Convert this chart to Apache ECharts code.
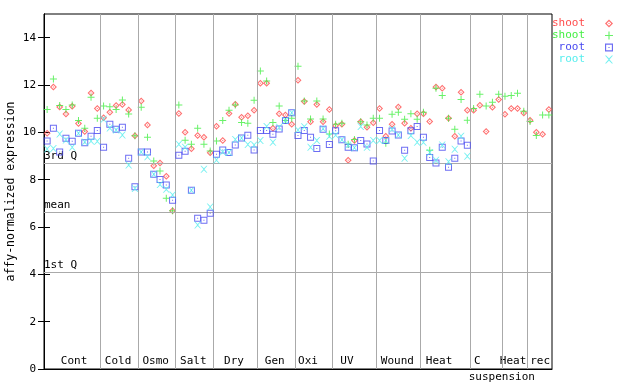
<!DOCTYPE html>
<html><head><meta charset="utf-8">
<script src="https://cdn.jsdelivr.net/npm/echarts@6/dist/echarts.min.js"></script>
<style>html,body{margin:0;padding:0;background:#fff}#c{width:640px;height:384px}</style>
</head><body><div id="c"></div>
<script>
const groups = ['Cont','Cold','Osmo','Salt','Dry','Gen','Oxi','UV','Wound','Heat','C','Heat','rec'];
const groupSizes = [9,6,6,6,7,6,6,7,7,8,5,4,4];
const groupLabelPos = [4.8,11.8,17.8,23.8,30.3,36.8,42.1,48.3,56.35,63.0,69.1,74.8,79.1];
const subLabels = ['suspension'];
const subLabelPos = [73.0];
const yTicks = [0,2,4,6,8,10,12,14];
const refNames = ['3rd Q','mean','1st Q'];
const refValues = [8.70, 6.63, 4.10];

const shootRed = [9.96,11.92,11.07,10.77,11.10,10.37,10.04,11.66,11.01,
 10.62,10.85,11.13,11.18,10.94,9.86,
 11.32,10.31,8.59,8.70,8.14,6.69,
 10.80,10.00,9.31,9.87,9.79,9.14,
 10.26,9.66,10.80,11.19,10.64,10.70,10.93,
 12.07,12.07,10.17,10.79,10.73,10.34,
 12.20,11.30,10.45,11.18,10.45,10.97,
 10.28,10.34,8.82,9.66,10.45,10.21,10.41,
 11.01,9.83,10.34,11.07,10.38,10.17,10.79,
 10.79,10.46,11.92,11.86,10.59,9.83,11.69,10.93,
 10.93,11.14,10.04,11.06,11.39,
 10.76,11.01,11.01,10.82,
 10.51,10.00,9.92,10.97];
const shootGreen = [10.97,12.25,11.13,10.97,11.15,10.50,10.17,11.48,10.59,
 11.11,11.08,10.97,11.37,10.77,9.86,
 11.06,9.79,8.79,8.37,7.21,6.69,
 11.15,9.67,9.50,10.17,9.50,9.21,
 9.63,10.50,10.93,11.15,10.42,10.38,11.36,
 12.59,12.17,10.42,11.11,10.50,10.59,
 12.79,11.32,10.56,11.32,10.56,9.93,
 10.34,10.38,9.50,9.70,10.45,10.31,10.59,
 10.59,9.54,10.76,10.85,10.55,10.79,10.55,
 10.85,9.24,11.86,11.56,10.59,10.13,11.39,10.51,
 11.01,11.61,11.11,11.27,11.61,
 11.52,11.56,11.65,10.89,
 10.46,9.87,10.73,10.73];
const rootBlue = [9.63,10.17,9.17,9.75,9.62,9.96,9.56,9.83,10.08,
 9.37,10.34,10.13,10.21,8.90,7.70,
 9.17,9.17,8.23,8.01,7.77,7.13,
 9.03,9.20,7.55,6.37,6.28,6.58,
 9.07,9.25,9.15,9.46,9.76,9.88,9.25,
 10.08,10.08,9.92,10.14,10.50,10.83,
 9.87,10.08,9.79,9.32,10.13,9.49,
 10.07,9.69,9.37,9.35,9.66,9.51,8.79,
 10.08,9.66,10.06,9.89,9.24,10.07,10.25,
 9.79,8.94,8.70,9.37,8.52,8.90,9.63,9.45];
const rootCyan = [9.30,9.32,9.93,9.68,9.37,9.96,9.59,9.63,9.62,
 10.55,10.18,10.10,9.89,8.62,7.63,
 9.17,8.97,8.23,7.80,7.59,7.35,
 9.50,9.37,7.55,6.08,8.44,6.84,
 8.83,9.17,9.15,9.70,9.76,9.49,9.46,
 9.66,10.25,9.58,10.22,10.50,10.83,
 10.10,10.24,9.37,9.66,10.15,9.83,
 9.89,9.69,9.46,9.35,10.25,9.37,9.66,
 9.66,9.66,10.13,9.89,8.90,9.87,9.58,
 9.58,9.15,8.82,9.46,8.76,9.28,9.83,8.99];

const FONT = 'DejaVu Sans Mono';
const totalSlots = groupSizes.reduce((a,b)=>a+b,0);
const bounds = [];
{ let acc = 0; for (let i = 0; i < groupSizes.length - 1; i++) { acc += groupSizes[i]; bounds.push(acc); } }
const toPts = arr => arr.map((v,i) => [i + 0.5, v]);

const SYM_DIAMOND = 'path://M3.5,0L7,3.5L3.5,7L0,3.5Z M3.5,1.5L1.5,3.5L3.5,5.5L5.5,3.5Z M3,3H4V4H3Z';
const SYM_PLUS = 'path://M3,0H4V3H7V4H4V7H3V4H0V3H3Z';
const SYM_SQUARE = 'path://M0,0H7V7H0Z M1,1V6H6V1Z M3,3H4V4H3Z';
const SYM_X = 'path://M0,0H1L3.5,2.5L6,0H7L4,3.5L7,7H6L3.5,4.5L1,7H0L3,3.5Z';

const RED = '#ff4c4c', GREEN = '#44ee44', BLUE = '#4848f0', CYAN = '#55eeee';

const chart = echarts.init(document.getElementById('c'), null, {renderer:'canvas'});
chart.setOption({
  animation: false,
  textStyle: {fontFamily: FONT, fontSize: 11},
  grid: {left: 44, top: 14, width: 508, height: 355, outerBoundsMode: 'none', containLabel: false,
         show: true, borderColor: '#000', borderWidth: 1, backgroundColor: 'transparent'},
  legend: {
    orient: 'vertical', right: 22, top: 13, align: 'right', itemWidth: 8, itemHeight: 8, itemGap: 1,
    textStyle: {fontFamily: FONT, fontSize: 11, padding: [0, 15, 0, 0]},
    data: [
      {name: 'shoot', textStyle: {color: RED}},
      {name: 'shoot\u200b', textStyle: {color: GREEN}},
      {name: 'root', textStyle: {color: BLUE}},
      {name: 'root\u200b', textStyle: {color: CYAN}}
    ]
  },
  xAxis: [
    {type: 'value', min: 0, max: totalSlots, position: 'bottom',
     axisLine: {lineStyle: {color: '#000'}}, axisTick: {show: false}, splitLine: {show: false},
     axisLabel: {inside: true, margin: 2, color: '#000', fontFamily: FONT, fontSize: 11,
       customValues: groupLabelPos,
       formatter: v => { const k = groupLabelPos.findIndex(p => Math.abs(p - v) < 1e-6); return k >= 0 ? groups[k] : ''; }}},
    {type: 'value', min: 0, max: totalSlots, position: 'bottom',
     axisLine: {show: false}, axisTick: {show: false}, splitLine: {show: false},
     axisLabel: {margin: 3, color: '#000', fontFamily: FONT, fontSize: 11,
       customValues: subLabelPos,
       formatter: v => { const k = subLabelPos.findIndex(p => Math.abs(p - v) < 1e-6); return k >= 0 ? subLabels[k] : ''; }}}
  ],
  yAxis: [
    {type: 'value', min: 0, max: 15, position: 'left',
     name: 'affy-normalized expression', nameLocation: 'middle', nameGap: 27, nameMoveOverlap: false,
     nameTextStyle: {color: '#000', fontFamily: FONT, fontSize: 11.5},
     axisLine: {show: true, lineStyle: {color: '#000'}},
     axisTick: {show: true, inside: true, length: 6, lineStyle: {color: '#000'}, customValues: yTicks},
     axisLabel: {margin: 8, color: '#000', fontFamily: FONT, fontSize: 11, customValues: yTicks},
     splitLine: {show: false}},
    {type: 'value', min: 0, max: 15, position: 'right',
     axisLine: {show: true, lineStyle: {color: '#000'}},
     axisTick: {show: true, inside: true, length: 6, lineStyle: {color: '#000'}, customValues: yTicks},
     axisLabel: {show: false}, splitLine: {show: false}}
  ],
  series: [
    {name: 'shoot', type: 'scatter', symbol: SYM_DIAMOND, symbolSize: 7,
     itemStyle: {color: RED}, data: toPts(shootRed), z: 3,
     markLine: {silent: true, symbol: 'none', animation: false,
       lineStyle: {color: '#aaaaaa', width: 1, type: 'solid'},
       label: {show: false},
       data: bounds.map(b => ({xAxis: b})).concat(refValues.map((v,i) => ({yAxis: v, name: refNames[i],
         label: {show: true, position: 'insideStartTop', distance: [0, 1], formatter: '{b}', color: '#000', fontFamily: FONT, fontSize: 11}})))}},
    {name: 'shoot\u200b', type: 'scatter', symbol: SYM_PLUS, symbolSize: 7,
     itemStyle: {color: GREEN}, data: toPts(shootGreen), z: 4},
    {name: 'root', type: 'scatter', symbol: SYM_SQUARE, symbolSize: 7,
     itemStyle: {color: BLUE}, data: toPts(rootBlue), z: 5},
    {name: 'root\u200b', type: 'scatter', symbol: SYM_X, symbolSize: 7,
     itemStyle: {color: CYAN}, data: toPts(rootCyan), z: 6}
  ]
});
</script></body></html>
